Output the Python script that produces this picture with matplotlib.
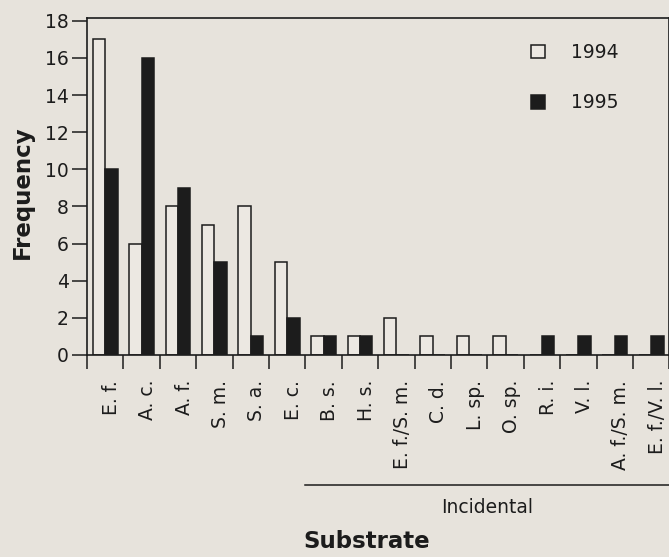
import numpy as np
import matplotlib
matplotlib.use("Agg")
from matplotlib import pyplot as plt
from matplotlib.transforms import ScaledTranslation, blended_transform_factory

# substrate codes, 8 main ones then the incidental ones
substrates = ["E. f.", "A. c.", "A. f.", "S. m.", "S. a.", "E. c.", "B. s.", "H. s.",
              "E. f./S. m.", "C. d.", "L. sp.", "O. sp.", "R. i.", "V. l.",
              "A. f./S. m.", "E. f./V. l."]
freq_1994 = [17, 6, 8, 7, 8, 5, 1, 1, 2, 1, 1, 1, 0, 0, 0, 0]
freq_1995 = [10, 16, 9, 5, 1, 2, 1, 1, 0, 0, 0, 0, 1, 1, 1, 1]
years = ["1994", "1995"]
yticks = [0, 2, 4, 6, 8, 10, 12, 14, 16, 18]
incidental_from = 6   # index of first incidental substrate (B. s.)

bg = "#e7e3dc"
ink = "#1c1c1c"

plt.rcParams["font.family"] = "DejaVu Sans"

fig = plt.figure(figsize=(6.69, 5.57), dpi=100, facecolor=bg)
ax = fig.add_axes([87 / 669, 1 - 355 / 557, 582.4 / 669, 337 / 557])
ax.set_facecolor(bg)

x = np.arange(len(substrates))
w = 0.34
b1 = ax.bar(x - w / 2, freq_1994, w, facecolor="#ece8e2", edgecolor=ink, linewidth=1.1, label=years[0])
b2 = ax.bar(x + w / 2, freq_1995, w, facecolor=ink, edgecolor=ink, linewidth=1.1, label=years[1])

ax.set_xlim(-0.5, len(substrates) - 0.5)
ax.set_ylim(0, 18.15)

for s in ax.spines.values():
    s.set_linewidth(1.2)
    s.set_color(ink)

ax.set_yticks(yticks)
ax.tick_params(axis="y", length=11, width=1.1, pad=2, labelsize=13.5, colors=ink, direction="out")

ax.set_xticks(np.arange(-0.5, len(substrates)), labels=[])
ax.set_xticks(x, labels=substrates, minor=True, rotation=90)
ax.tick_params(axis="x", which="major", length=10, width=1.1, direction="out", color=ink)
ax.tick_params(axis="x", which="minor", length=0, pad=18, labelsize=13.5, labelcolor=ink)
shift = ScaledTranslation(6 / 100, 0, fig.dpi_scale_trans)
for lab in ax.get_xticklabels(minor=True):
    lab.set_verticalalignment("top")
    lab.set_transform(lab.get_transform() + shift)

# bracket for incidental substrates
tr = blended_transform_factory(ax.transData, ax.transAxes)
ax.plot([incidental_from - 0.5, len(substrates) - 0.5], [-0.386, -0.386], color=ink,
        lw=1.1, transform=tr, clip_on=False)
ax.text((incidental_from - 0.5 + len(substrates) - 0.5) / 2, -0.454, "Incidental",
        transform=tr, ha="center", va="center", fontsize=13.5, color=ink)

fig.text(367 / 669, 1 - 541 / 557, "Substrate", ha="center", va="center",
         fontsize=16.5, fontweight="bold", color=ink)
fig.text(22 / 669, 1 - 192 / 557, "Frequency", ha="center", va="center", rotation=90,
         fontsize=16.5, fontweight="bold", color=ink)

ax.legend(handles=[b1, b2], loc="upper left", bbox_to_anchor=(531 / 669, 1 - 43 / 557),
          bbox_transform=fig.transFigure, frameon=False, borderpad=0, borderaxespad=0,
          handlelength=0.74, handleheight=0.74, handletextpad=1.37, labelspacing=1.68,
          fontsize=13.5, labelcolor=ink)

fig.savefig("out.png", dpi=100, facecolor=bg)
